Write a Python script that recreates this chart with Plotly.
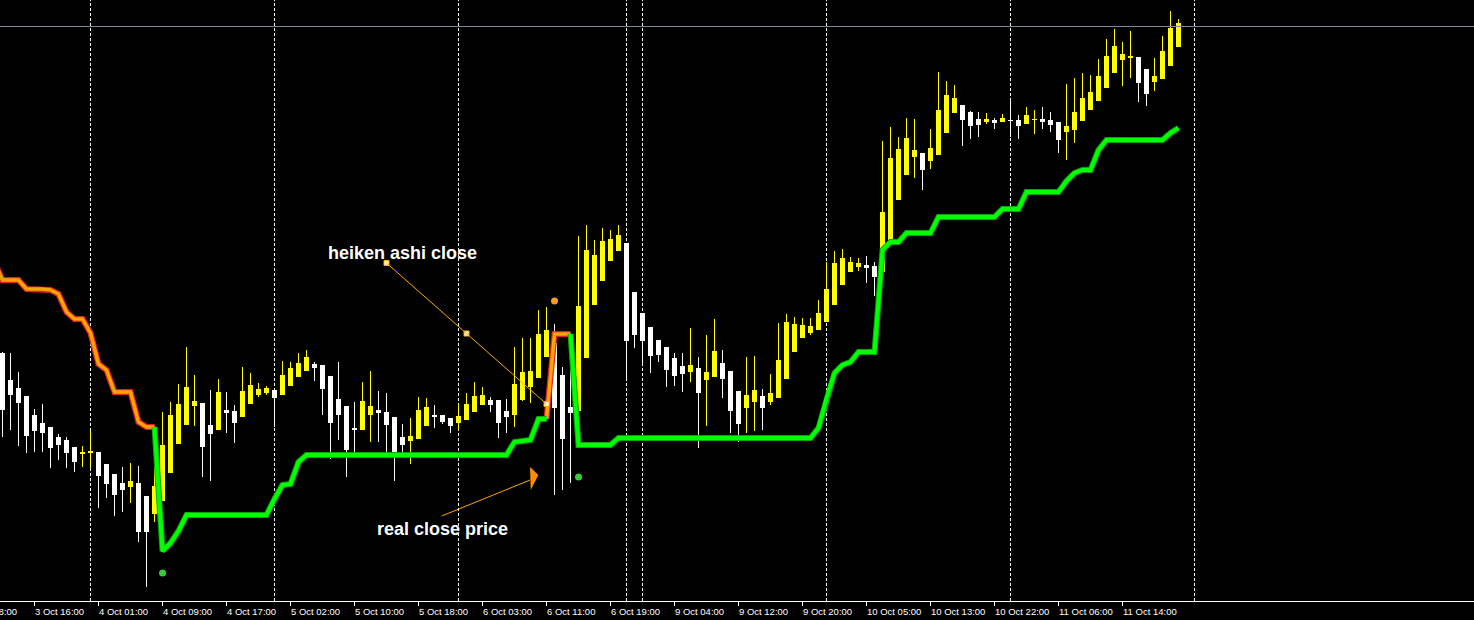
import plotly.graph_objects as go

# ---- Heiken Ashi H1 bars (price in points, bar index 0..147) ----
ha_open = [
    248, 221, 213, 205, 186, 178, 174, 164, 161, 154,
    147, 148, 149, 137, 127, 118, 114, 118, 105, 87,
    100, 128, 157, 176, 195, 198, 176, 171, 191, 190,
    184, 197, 206, 208, 211, 206, 215, 224, 230, 237,
    236, 225, 202, 195, 173, 171, 186, 191, 189, 184,
    164, 160, 162, 175, 186, 186, 183, 178, 181, 189,
    196, 201, 201, 190, 186, 201, 214, 223, 244, 258,
    226, 194, 190, 243, 296, 320, 340, 350, 358, 309,
    288, 274, 261, 254, 243, 235, 229, 233, 221, 224,
    238, 230, 210, 193, 199, 205, 199, 203, 222, 249,
    263, 268, 271, 279, 296, 316, 329, 334, 336, 335,
    329, 358, 401, 426, 444, 448, 440, 446, 468, 488,
    496, 489, 482, 479, 481, 479, 481, 481, 477, 481,
    482, 481, 479, 469, 471, 480, 491, 500, 513, 528,
    541, 543, 544, 532, 519, 522, 535, 554,
]
ha_close = [
    191, 206, 198, 165, 170, 168, 153, 156, 148, 139,
    149, 150, 125, 117, 106, 111, 120, 69, 69, 115,
    156, 186, 197, 214, 200, 154, 167, 209, 188, 178,
    210, 216, 212, 213, 203, 226, 233, 238, 244, 233,
    212, 178, 186, 151, 171, 200, 195, 188, 176, 146,
    156, 165, 191, 194, 184, 179, 175, 185, 197, 205,
    206, 196, 178, 184, 217, 229, 230, 267, 271, 193,
    162, 188, 295, 351, 346, 360, 362, 366, 260, 266,
    260, 245, 246, 231, 225, 227, 236, 208, 229, 250,
    222, 190, 177, 206, 211, 193, 208, 241, 279, 277,
    276, 275, 288, 312, 338, 343, 339, 338, 333, 324,
    389, 443, 452, 463, 451, 431, 453, 491, 506, 503,
    481, 475, 476, 482, 478, 483, 480, 475, 486, 482,
    479, 476, 461, 475, 489, 503, 509, 525, 545, 555,
    547, 545, 518, 507, 525, 550, 573, 578,
]
ha_high = [
    249, 248, 229, 205, 192, 197, 174, 167, 164, 154,
    155, 170, 149, 137, 127, 134, 138, 135, 105, 151,
    189, 199, 217, 254, 226, 198, 211, 222, 209, 196,
    234, 228, 218, 215, 213, 240, 239, 248, 251, 239,
    236, 225, 239, 195, 199, 219, 230, 210, 208, 184,
    177, 183, 204, 203, 196, 186, 183, 198, 208, 219,
    214, 204, 201, 202, 254, 263, 263, 291, 294, 277,
    234, 232, 365, 376, 361, 373, 371, 376, 358, 309,
    288, 274, 261, 254, 248, 248, 273, 244, 266, 282,
    251, 230, 210, 244, 245, 212, 227, 278, 287, 284,
    283, 283, 301, 339, 350, 352, 344, 343, 345, 339,
    460, 474, 464, 483, 482, 448, 472, 529, 520, 516,
    496, 490, 489, 488, 483, 487, 502, 486, 494, 491,
    494, 489, 479, 517, 523, 528, 526, 542, 562, 572,
    559, 570, 544, 532, 543, 565, 590, 582,
]
ha_low = [
    164, 171, 155, 148, 149, 149, 133, 141, 133, 129,
    134, 133, 93, 103, 85, 89, 98, 59, 14, 79,
    100, 128, 157, 176, 175, 124, 120, 171, 168, 158,
    184, 197, 204, 206, 174, 206, 215, 224, 230, 220,
    186, 142, 161, 124, 143, 171, 159, 159, 148, 120,
    146, 137, 162, 175, 173, 177, 168, 171, 181, 189,
    196, 189, 163, 168, 174, 200, 198, 223, 244, 106,
    111, 118, 190, 243, 296, 320, 340, 350, 223, 253,
    235, 228, 239, 214, 215, 209, 219, 153, 175, 224,
    203, 168, 159, 168, 170, 171, 196, 203, 222, 249,
    263, 266, 271, 279, 296, 316, 329, 330, 318, 305,
    329, 358, 401, 426, 423, 411, 432, 446, 468, 488,
    455, 462, 464, 477, 472, 479, 464, 462, 477, 467,
    472, 469, 448, 441, 458, 480, 491, 500, 513, 528,
    515, 523, 499, 495, 510, 522, 535, 554,
]
bars = list(range(len(ha_open)))

# ---- trailing stop, bar -1 .. 147 ----
trail_level = [
    339, 321, 321, 321, 312, 312, 312, 311, 307, 289,
    282, 282, 268, 237, 231, 209, 209, 209, 179, 174,
    174, 50, 58, 70, 86, 86, 86, 86, 86, 86,
    86, 86, 86, 86, 86, 102, 116, 117, 139, 146,
    146, 146, 146, 146, 146, 146, 146, 146, 146, 146,
    146, 146, 146, 146, 146, 146, 146, 146, 146, 146,
    146, 146, 146, 146, 146, 159, 160, 161, 182, 182,
    267, 267, 267, 156, 156, 156, 156, 156, 163, 163,
    163, 163, 163, 163, 163, 163, 163, 163, 163, 163,
    163, 163, 163, 163, 163, 163, 163, 163, 163, 163,
    163, 163, 163, 173, 203, 228, 236, 239, 249, 249,
    249, 351, 359, 359, 368, 368, 368, 368, 384, 384,
    384, 384, 384, 384, 384, 384, 392, 392, 392, 409,
    409, 409, 409, 409, 420, 428, 431, 431, 451, 461,
    461, 461, 461, 461, 461, 461, 461, 468, 473,
]
trail_dir = ["dn"] * 21 + ["up"] * 49 + ["dn"] * 3 + ["up"] * 76
trail_bars = list(range(-1, 148))

# dots where the trend flips
flip_bars = [20, 69, 72]
flip_levels = [28, 300, 124]
flip_dir = ["up", "dn", "up"]

# day separators and bid line
separator_bars = [11, 34, 57, 78, 80, 103, 126, 149]
bid_level = 574.5

# time axis labels
tick_bars = [-4, 4, 12, 20, 28, 36, 44, 52, 60, 68, 76, 84, 92, 100, 108, 116, 124, 132, 140]
tick_text = [
    "3 Oct 08:00", "3 Oct 16:00", "4 Oct 01:00", "4 Oct 09:00", "4 Oct 17:00",
    "5 Oct 02:00", "5 Oct 10:00", "5 Oct 18:00", "6 Oct 03:00", "6 Oct 11:00",
    "6 Oct 19:00", "9 Oct 04:00", "9 Oct 12:00", "9 Oct 20:00", "10 Oct 05:00",
    "10 Oct 13:00", "10 Oct 22:00", "11 Oct 06:00", "11 Oct 14:00",
]

BULL = "#ffff00"
BEAR = "#ffffff"
COLORS = {
    "up": ("#00a800", "#00ff00", 6, 4),
    "dn": ("#e0202a", "#ffa500", 6, 3.5),
}
DOT = {"up": "#32cd32", "dn": "#ff9a1a"}
NOTE = "#ffa500"

fig = go.Figure()

# candle bodies
fig.add_trace(go.Bar(
    x=bars,
    base=[min(o, c) for o, c in zip(ha_open, ha_close)],
    y=[max(abs(c - o), 1) for o, c in zip(ha_open, ha_close)],
    width=0.625,
    marker=dict(color=[BULL if c > o else BEAR for o, c in zip(ha_open, ha_close)],
                line=dict(width=0)),
    hoverinfo="skip",
))

# wicks
fig.add_trace(go.Ohlc(
    x=bars, open=ha_open, high=ha_high, low=ha_low, close=ha_close,
    tickwidth=0,
    increasing=dict(line=dict(color=BULL, width=1)),
    decreasing=dict(line=dict(color=BEAR, width=1)),
    hoverinfo="skip",
))

# trailing stop line, one colour per trend side
for side in ["dn", "up"]:
    ys = []
    for i, v in enumerate(trail_level):
        keep = trail_dir[i] == side or (i + 1 < len(trail_dir) and trail_dir[i + 1] == side)
        ys.append(v if keep else None)
    edge, core, w_edge, w_core = COLORS[side]
    fig.add_trace(go.Scatter(x=trail_bars, y=ys, mode="lines",
                             line=dict(color=edge, width=w_edge), hoverinfo="skip"))
    fig.add_trace(go.Scatter(x=trail_bars, y=ys, mode="lines",
                             line=dict(color=core, width=w_core), hoverinfo="skip"))

fig.add_trace(go.Scatter(
    x=flip_bars, y=flip_levels, mode="markers",
    marker=dict(size=7, color=[DOT[d] for d in flip_dir]),
    hoverinfo="skip",
))

# hand-drawn notes
fig.add_shape(type="line", x0=48, y0=338, x1=68, y1=197,
              line=dict(color=NOTE, width=1))
fig.add_trace(go.Scatter(
    x=[48, 58, 68], y=[338, 267.5, 197], mode="markers",
    marker=dict(symbol="square", size=5, color="white", line=dict(color=NOTE, width=1)),
    hoverinfo="skip",
))
fig.add_shape(type="line", x0=54.9, y0=85, x1=65.94, y1=121,
              line=dict(color=NOTE, width=1))
fig.add_shape(type="path", path="M 65.94,134 L 66.98,126 L 66.03,111 Z",
              fillcolor="#ff8c00", line=dict(width=0))

fig.add_annotation(x=50.06, y=348, text="heiken ashi close", showarrow=False,
                   font=dict(family="Liberation Sans", size=18, color="white", weight="bold"))
fig.add_annotation(x=55.0, y=72.5, text="real close price", showarrow=False,
                   font=dict(family="Liberation Sans", size=18, color="white", weight="bold"))

# separators and bid line
for b in separator_bars:
    fig.add_vline(x=b, line=dict(color="white", width=1, dash="3px,2px"), layer="below")
fig.add_hline(y=bid_level, line=dict(color="#778899", width=1))

# time labels, left-aligned after the tick like the terminal does
for b, t in zip(tick_bars, tick_text):
    if b < 0:
        fig.add_annotation(xref="paper", x=0, yref="paper", y=0, text=t,
                           xanchor="right", yanchor="middle", xshift=19, yshift=-10,
                           showarrow=False,
                           font=dict(family="Liberation Sans", size=9.5, color="white"))
    else:
        fig.add_annotation(x=b, yref="paper", y=0, text=t,
                           xanchor="left", yanchor="middle", xshift=-2, yshift=-10,
                           showarrow=False,
                           font=dict(family="Liberation Sans", size=9.5, color="white"))

fig.update_layout(
    width=1474, height=620,
    margin=dict(l=0, r=0, t=0, b=19),
    paper_bgcolor="black", plot_bgcolor="black",
    showlegend=False,
    bargap=0,
)
fig.update_xaxes(
    range=[-0.3125, 183.9375],
    showgrid=False, zeroline=False,
    showline=True, linecolor="white", linewidth=1,
    tickvals=tick_bars, ticks="outside", ticklen=4, tickcolor="white", tickwidth=1,
    showticklabels=False,
    rangeslider=dict(visible=False),
)
fig.update_yaxes(range=[0, 601], showgrid=False, zeroline=False, showticklabels=False)

# the page body has a default 8px margin; drop it so the chart fills the window
fig.write_html("out.html", config={"displayModeBar": False},
               post_script="document.body.style.margin='0';")
